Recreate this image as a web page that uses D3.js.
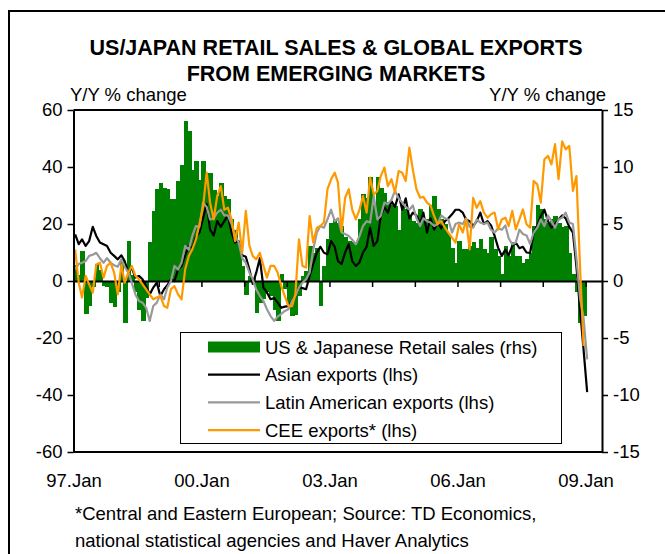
<!DOCTYPE html>
<html>
<head>
<meta charset="utf-8">
<script src="https://cdn.jsdelivr.net/npm/d3@7"></script>
<style>
    body { margin: 0; background: #fff; }
    svg text { font-family: Arial, "Liberation Sans", sans-serif; }
</style>
</head>
<body>
<div id="chart"></div>
<script>
// monthly data, starting Jan 1997
const startYear = 1997;

// US & Japanese retail sales, Y/Y % (rhs)
const retailSales = [
    1.4, 0.5, 2.6, -2.9, -2.2, -0.5, 1.5, 1.0, -0.4, -0.5, -1.9, -2.3,
    -1.0, 1.9, -3.7, 3.5, 0.5, -1.0, -2.5, -3.5, -1.5, 3.4, 6.1, 8.1,
    8.6, 8.2, 8.1, 7.2, 7.2, 8.8, 10.2, 14.0, 13.2, 9.7, 10.5, 8.9,
    10.5, 9.5, 9.5, 8.0, 7.5, 8.6, 7.5, 7.2, 5.4, 4.5, 3.4, 1.3,
    -1.2, 0.4, 0.3, -2.8, -1.9, -1.6, -1.0, -1.3, -2.5, -3.5, 0.6, -0.7,
    -2.0, -3.1, -3.0, -1.3, 0.4, 0.9, 3.1, 2.5, 2.9, -2.2, 1.3, 3.7,
    5.1, 5.4, 5.1, 4.8, 3.9, 3.5, 3.4, 3.4, 5.4, 7.6, 7.3, 9.1,
    6.7, 9.1, 8.2, 7.7, 6.9, 6.7, 6.6, 4.5, 6.6, 6.3, 5.7, 5.3,
    5.1, 6.3, 5.4, 5.4, 6.7, 7.5, 6.3, 5.4, 5.0, 4.1, 2.9, 1.6,
    3.5, 2.8, 2.8, 3.1, 3.4, 2.9, 3.7, 2.8, 2.5, 3.9, 2.8, 2.2,
    0.6, 3.1, 2.2, 3.4, 2.2, 2.2, 1.6, 1.9, 2.5, 4.8, 6.7, 6.3,
    5.4, 5.1, 5.4, 5.7, 5.1, 4.7, 4.8, 2.5, 0.6, -1.0, -3.7, -3.1
];

// Asian exports, Y/Y % (lhs)
const asianExports = [
    16.4, 12.9, 14.6, 12.3, 14.0, 19.0, 15.8, 13.5, 12.9, 12.3, 9.9, 8.8,
    7.6, 9.0, 7.0, 2.9, 4.7, 1.2, 1.8, 0.6, -1.8, -4.7, -2.3, -0.6,
    -5.3, -2.9, -1.5, 0.6, 0.0, 4.0, 5.3, 9.0, 12.3, 11.5, 15.5, 17.0,
    22.0, 27.0, 18.0, 16.0, 21.0, 19.0, 21.0, 23.0, 17.0, 13.5, 14.0, 9.0,
    8.5, 4.0, -1.0, 3.0, 8.0, -2.3, -4.0, -6.4, -6.0, -7.6, -9.4, -9.0,
    -8.8, -7.0, -5.3, -2.3, -2.5, -2.9, 1.8, 6.0, 10.0, 12.0, 9.9, 9.4,
    14.0, 12.0, 7.0, 6.0, 10.0, 12.9, 7.0, 5.3, 6.5, 10.0, 12.0, 18.7,
    12.3, 14.0, 22.8, 26.0, 24.0, 28.0, 26.0, 30.4, 25.0, 29.0, 22.0, 24.0,
    23.0, 20.0, 24.0, 17.0, 22.0, 18.0, 20.5, 18.5, 21.0, 22.0, 23.4, 25.0,
    25.0, 24.0, 21.6, 21.0, 19.3, 21.0, 24.0, 20.0, 21.0, 19.5, 15.8, 11.7,
    8.8, 11.0, 9.0, 12.3, 13.5, 11.5, 12.0, 10.0, 9.9, 17.0, 19.5, 22.8,
    25.0, 21.0, 18.7, 20.0, 21.6, 23.0, 22.0, 19.0, 17.0, 5.0, -10.0, -24.0,
    -39.0
];

// Latin American exports, Y/Y % (lhs)
const latinExports = [
    4.1, 6.0, 6.4, 7.0, 8.8, 9.2, 9.9, 8.0, 6.4, 8.0, 6.4, 5.5,
    5.0, 7.6, 5.0, 3.0, -0.6, -4.7, -7.0, -7.6, -9.4, -14.0, -8.8, -7.6,
    -4.7, -6.4, -2.3, 0.0, 5.3, 4.0, 6.4, 12.3, 11.0, 15.8, 19.3, 19.0,
    27.5, 26.0, 21.6, 22.0, 24.0, 25.0, 23.0, 23.0, 20.0, 16.0, 13.5, 8.0,
    6.4, 2.9, 0.6, -3.0, -5.3, -7.0, -9.9, -12.3, -14.0, -12.5, -11.5, -10.5,
    -9.9, -7.0, -5.3, -2.3, -0.6, 0.6, 2.9, 11.0, 17.0, 19.3, 18.7, 21.6,
    25.0, 21.0, 22.0, 17.0, 16.5, 15.8, 14.5, 12.9, 15.8, 19.3, 21.0, 20.5,
    29.8, 21.6, 22.8, 27.5, 27.0, 28.5, 31.6, 29.0, 27.5, 26.0, 25.0, 26.5,
    22.0, 19.3, 22.0, 21.0, 20.5, 19.3, 20.0, 23.0, 22.0, 21.6, 17.0, 20.0,
    20.5, 20.0, 22.0, 19.0, 18.7, 21.6, 20.5, 20.0, 20.5, 18.0, 17.0, 18.5,
    18.0, 19.5, 15.0, 12.9, 13.5, 18.0, 16.5, 16.0, 13.0, 17.0, 18.7, 21.6,
    19.3, 23.0, 21.0, 18.7, 21.6, 22.2, 24.0, 20.5, 20.0, 8.0, -6.0, -13.0,
    -27.5
];

// CEE exports, Y/Y % (lhs)
const ceeExports = [
    11.1, -0.6, -5.8, 1.8, -1.2, -4.1, 5.8, 6.4, 1.2, 5.3, 6.4, 2.9,
    -4.7, 5.8, -0.6, 2.9, 5.3, 1.8, 0.6, -1.2, -2.9, -4.7, -6.4, -5.8,
    -5.3, -8.8, -9.4, -2.9, -1.8, -4.7, -6.4, 4.1, 8.8, 11.1, 14.6, 19.9,
    26.0, 38.0, 27.5, 21.6, 29.8, 33.3, 25.0, 25.7, 21.6, 14.0, 20.5, 9.9,
    24.6, 12.3, 8.8, 7.6, 9.9, 5.3, 1.2, 5.3, 5.3, 2.9, -1.8, -5.3,
    -8.8, -8.8, -4.7, 14.6, 5.3, 4.7, 22.8, 13.5, 18.7, 19.3, 20.5, 32.2,
    35.7, 38.0, 34.5, 17.5, 29.2, 32.2, 25.0, 21.6, 25.0, 29.8, 24.0, 36.3,
    30.4, 31.6, 36.8, 39.8, 33.3, 35.7, 31.0, 38.6, 38.0, 35.1, 46.8, 39.0,
    32.2, 29.2, 29.5, 27.5, 26.5, 22.8, 19.9, 21.0, 18.7, 17.0, 15.2, 13.5,
    19.9, 17.0, 21.6, 11.1, 29.2, 25.7, 28.0, 24.0, 22.2, 23.4, 24.0, 18.1,
    21.6, 22.2, 19.3, 24.6, 18.1, 21.6, 25.1, 19.9, 18.7, 35.1, 33.9, 27.5,
    42.7, 43.9, 40.9, 48.0, 35.7, 49.0, 46.2, 47.4, 31.6, 36.8, 5.0, -22.8
];

const xTickLabels = ['97.Jan', '00.Jan', '03.Jan', '06.Jan', '09.Jan'];
const leftTicks = [60, 40, 20, 0, -20, -40, -60];
const rightTicks = [15, 10, 5, 0, -5, -10, -15];

const legendItems = [
    { label: 'US & Japanese Retail sales (rhs)', color: '#008000', type: 'bar' },
    { label: 'Asian exports (lhs)', color: '#000000', type: 'line' },
    { label: 'Latin American exports (lhs)', color: '#999999', type: 'line' },
    { label: 'CEE exports* (lhs)', color: '#ff9900', type: 'line' }
];

const width = 665, height = 554;
const plot = { left: 73.5, right: 602, top: 110, bottom: 452 };
const fontSize = '18.5px';

const svg = d3.select('#chart').append('svg')
    .attr('width', width)
    .attr('height', height);

svg.append('rect').attr('width', width).attr('height', height).attr('fill', '#fff');

// outer frame, only left and top edges are inside the picture
svg.append('path')
    .attr('d', `M9,${height}V11H${width}`)
    .attr('fill', 'none')
    .attr('stroke', '#000')
    .attr('stroke-width', 2);

// title
const title = svg.append('text')
    .attr('text-anchor', 'middle')
    .attr('font-weight', 'bold')
    .attr('font-size', '21.5px');
title.append('tspan').attr('x', 336).attr('y', 55).text('US/JAPAN RETAIL SALES & GLOBAL EXPORTS');
title.append('tspan').attr('x', 336).attr('y', 81).text('FROM EMERGING MARKETS');

svg.append('text').attr('x', 70).attr('y', 101).attr('font-size', fontSize).text('Y/Y % change');
svg.append('text').attr('x', 606).attr('y', 101).attr('text-anchor', 'end')
    .attr('font-size', fontSize).text('Y/Y % change');

// scales
const month = (m, day) => new Date(startYear, m, day);
const x = d3.scaleTime()
    .domain([new Date(1997, 0, 1), new Date(2009, 4, 22)])
    .range([plot.left, plot.right]);
const yLeft = d3.scaleLinear().domain([-60, 60]).range([plot.bottom, plot.top]);
const yRight = d3.scaleLinear().domain([-15, 15]).range([plot.bottom, plot.top]);

// retail sales bars (slight overlap so neighbours join without seams)
svg.append('g')
    .attr('shape-rendering', 'crispEdges')
    .selectAll('rect')
    .data(retailSales)
    .join('rect')
    .attr('x', (d, i) => x(month(i, 1)))
    .attr('width', (d, i) => x(month(i + 1, 1)) - x(month(i, 1)) + 1)
    .attr('y', d => yRight(Math.max(0, d)))
    .attr('height', d => Math.abs(yRight(d) - yRight(0)))
    .attr('fill', '#008000');

// zero line with yearly ticks
const zeroAxis = svg.append('g')
    .attr('transform', `translate(0,${yLeft(0)})`)
    .call(d3.axisBottom(x)
        .tickValues(d3.range(1997, 2010).map(y => new Date(y, 0, 1)))
        .tickSize(6)
        .tickSizeOuter(0)
        .tickFormat(''));
zeroAxis.select('.domain').attr('stroke-width', 2);
zeroAxis.selectAll('.tick line').attr('stroke-width', 1.5);

// export lines
const line = d3.line()
    .x((d, i) => x(month(i, 15)))
    .y(d => yLeft(d));

[
    { values: asianExports, color: '#000000' },
    { values: latinExports, color: '#999999' },
    { values: ceeExports, color: '#ff9900' }
].forEach(s => {
    svg.append('path')
        .datum(s.values)
        .attr('d', line)
        .attr('fill', 'none')
        .attr('stroke', s.color)
        .attr('stroke-width', 2.2)
        .attr('stroke-linejoin', 'round');
});

// frame top / bottom
svg.append('line')
    .attr('x1', plot.left).attr('x2', plot.right)
    .attr('y1', plot.top).attr('y2', plot.top)
    .attr('stroke', '#000').attr('stroke-width', 2);
svg.append('line')
    .attr('x1', plot.left).attr('x2', plot.right)
    .attr('y1', plot.bottom).attr('y2', plot.bottom)
    .attr('stroke', '#000').attr('stroke-width', 2);

// plain hyphen for negatives, as in the original
const plainNum = d => String(d);

// left axis
const leftAxis = svg.append('g')
    .attr('transform', `translate(${plot.left},0)`)
    .call(d3.axisLeft(yLeft).tickValues(leftTicks).tickFormat(plainNum)
        .tickSize(6).tickSizeOuter(0).tickPadding(5));

// right axis
const rightAxis = svg.append('g')
    .attr('transform', `translate(${plot.right},0)`)
    .call(d3.axisRight(yRight).tickValues(rightTicks).tickFormat(plainNum)
        .tickSize(6).tickSizeOuter(0).tickPadding(5));

[leftAxis, rightAxis].forEach(ax => {
    ax.attr('font-family', null).attr('font-size', fontSize);
    ax.select('.domain').attr('stroke-width', 2);
    ax.selectAll('.tick line').attr('stroke-width', 1.5);
    ax.selectAll('.tick text').attr('fill', '#000');
});

// x labels under the plot
const labelAxis = svg.append('g')
    .attr('transform', `translate(0,${plot.bottom + 19})`)
    .call(d3.axisBottom(x)
        .tickValues(d3.range(0, 5).map(k => new Date(1997 + 3 * k, 0, 1)))
        .tickSize(0)
        .tickPadding(3)
        .tickFormat((d, i) => xTickLabels[i]));
labelAxis.attr('font-family', null).attr('font-size', fontSize);
labelAxis.select('.domain').remove();
labelAxis.selectAll('.tick text').attr('fill', '#000');

// legend
const legend = svg.append('g');
legend.append('rect')
    .attr('x', 180.5).attr('y', 332.5)
    .attr('width', 381).attr('height', 111)
    .attr('fill', '#fff').attr('stroke', '#000').attr('stroke-width', 1);

legendItems.forEach((item, i) => {
    const cy = 347 + i * 27.7;
    if (item.type === 'bar') {
        legend.append('rect')
            .attr('x', 208).attr('y', cy - 5.5)
            .attr('width', 52).attr('height', 11)
            .attr('fill', item.color);
    } else {
        legend.append('line')
            .attr('x1', 208).attr('x2', 260)
            .attr('y1', cy).attr('y2', cy)
            .attr('stroke', item.color).attr('stroke-width', 2.2);
    }
    legend.append('text')
        .attr('x', 265).attr('y', cy + 6.6)
        .attr('font-size', fontSize)
        .text(item.label);
});

// footnote
svg.append('text').attr('x', 75).attr('y', 520).attr('font-size', fontSize)
    .text('*Central and Eastern European; Source: TD Economics,');
svg.append('text').attr('x', 75).attr('y', 547).attr('font-size', fontSize)
    .text('national statistical agencies and Haver Analytics');
</script>
</body>
</html>
